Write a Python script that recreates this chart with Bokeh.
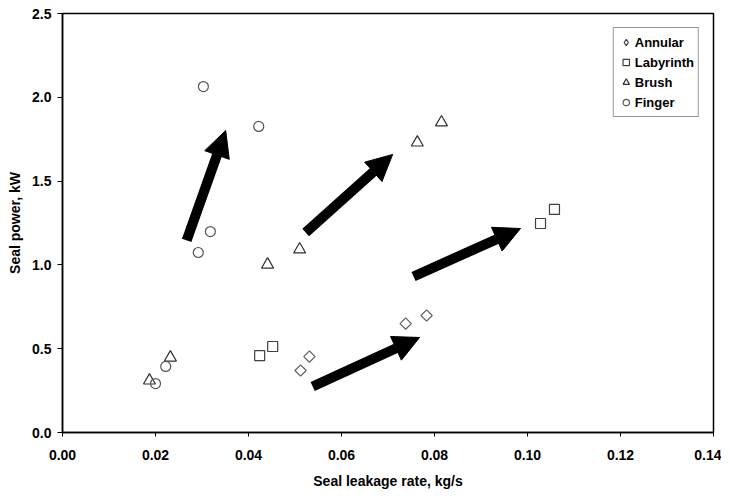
import numpy as np
from bokeh.plotting import figure
from bokeh.models import (Arrow, NormalHead, Range1d, Legend, LegendItem,
                          FixedTicker, ColumnDataSource)
from bokeh.embed import file_html
from bokeh.resources import INLINE

# ---- data ----
annular_x = [0.0512, 0.0531, 0.0738, 0.0783]
annular_y = [0.370, 0.453, 0.650, 0.698]

labyrinth_x = [0.0424, 0.0452, 0.1028, 0.1058]
labyrinth_y = [0.459, 0.513, 1.247, 1.331]

brush_x = [0.0187, 0.0232, 0.0441, 0.0510, 0.0763, 0.0815]
brush_y = [0.310, 0.447, 1.002, 1.092, 1.730, 1.850]

finger_x = [0.0200, 0.0222, 0.0292, 0.0318, 0.0422, 0.0303]
finger_y = [0.292, 0.394, 1.074, 1.199, 1.826, 2.064]

# trend arrows (tail -> tip)
arrow_x0 = [0.0267, 0.0523, 0.0755, 0.0538]
arrow_y0 = [1.146, 1.193, 0.931, 0.274]
arrow_x1 = [0.0351, 0.0710, 0.0985, 0.0768]
arrow_y1 = [1.802, 1.659, 1.217, 0.567]

x_ticks = [0.00, 0.02, 0.04, 0.06, 0.08, 0.10, 0.12, 0.14]
x_tick_labels = ["0.00", "0.02", "0.04", "0.06", "0.08", "0.10", "0.12", "0.14"]
y_ticks = [0.0, 0.5, 1.0, 1.5, 2.0, 2.5]
y_tick_labels = ["0.0", "0.5", "1.0", "1.5", "2.0", "2.5"]

FONT = "Liberation Sans"

p = figure(frame_width=651, frame_height=419, output_backend="svg",
           toolbar_location=None,
           x_range=Range1d(0, 0.14), y_range=Range1d(0, 2.5),
           min_border_left=62, min_border_right=8, min_border_top=13,
           min_border_bottom=44, background_fill_color="white",
           border_fill_color="white")
p.xgrid.visible = False
p.ygrid.visible = False
p.outline_line_color = "black"
p.outline_line_width = 1.5
p.outline_line_alpha = 1

p.xaxis.ticker = FixedTicker(ticks=x_ticks)
p.xaxis.major_label_overrides = {t: l for t, l in zip(x_ticks, x_tick_labels)}
p.yaxis.ticker = FixedTicker(ticks=y_ticks)
p.yaxis.major_label_overrides = {t: l for t, l in zip(y_ticks, y_tick_labels)}

p.xaxis.axis_label = "Seal leakage rate, kg/s"
p.yaxis.axis_label = "Seal power, kW"
for ax in (p.xaxis, p.yaxis):
    ax.axis_line_color = "black"
    ax.axis_line_width = 1.5
    ax.major_tick_line_color = "black"
    ax.major_tick_line_width = 1
    ax.major_tick_in = 0
    ax.minor_tick_line_color = None
    ax.major_label_text_font = FONT
    ax.major_label_text_font_style = "bold"
    ax.major_label_text_font_size = "14px"
    ax.major_label_text_color = "black"
    ax.axis_label_text_font = FONT
    ax.axis_label_text_font_style = "bold"
    ax.axis_label_text_font_size = "14px"
    ax.axis_label_text_color = "black"
p.xaxis.major_tick_out = 4
p.yaxis.major_tick_out = 5
p.xaxis.major_label_standoff = 13
p.yaxis.major_label_standoff = 6
p.xaxis.axis_label_standoff = 10
p.yaxis.axis_label_standoff = 6

r_ann = p.scatter(annular_x, annular_y, marker="square", angle=np.pi / 4, size=8,
                  fill_color=None, line_color="#606060", line_width=1.2)
r_lab = p.scatter(labyrinth_x, labyrinth_y, marker="square", size=10,
                  fill_color=None, line_color="#404040", line_width=1.2)
r_bru = p.scatter(brush_x, brush_y, marker="triangle", size=12,
                  fill_color=None, line_color="#303030", line_width=1.2)
r_fin = p.scatter(finger_x, finger_y, marker="circle", size=10,
                  fill_color=None, line_color="#555555", line_width=1.2)
# legend-only glyph for the diamond symbol (no drawable data)
r_ann_key = p.scatter([np.nan], [np.nan], marker="diamond", size=12,
                      fill_color=None, line_color="#404040", line_width=1.2)

src = ColumnDataSource(dict(x0=arrow_x0, y0=arrow_y0, x1=arrow_x1, y1=arrow_y1))
p.add_layout(Arrow(source=src, x_start="x0", y_start="y0", x_end="x1", y_end="y1",
                   line_color="black", line_width=10,
                   end=NormalHead(size=26, fill_color="black", line_color="black",
                                  line_width=1)))

legend = Legend(items=[LegendItem(label="Annular", renderers=[r_ann_key]),
                       LegendItem(label="Labyrinth", renderers=[r_lab]),
                       LegendItem(label="Brush", renderers=[r_bru]),
                       LegendItem(label="Finger", renderers=[r_fin])],
                location="top_right", margin=14, padding=4, spacing=0,
                glyph_width=16, glyph_height=20, label_standoff=1,
                label_text_font=FONT, label_text_font_style="bold",
                label_text_font_size="13px", label_text_color="black",
                border_line_color="#333333", border_line_width=1,
                background_fill_color="white", background_fill_alpha=1)
p.add_layout(legend)

open("out.html", "w").write(file_html(p, INLINE))
